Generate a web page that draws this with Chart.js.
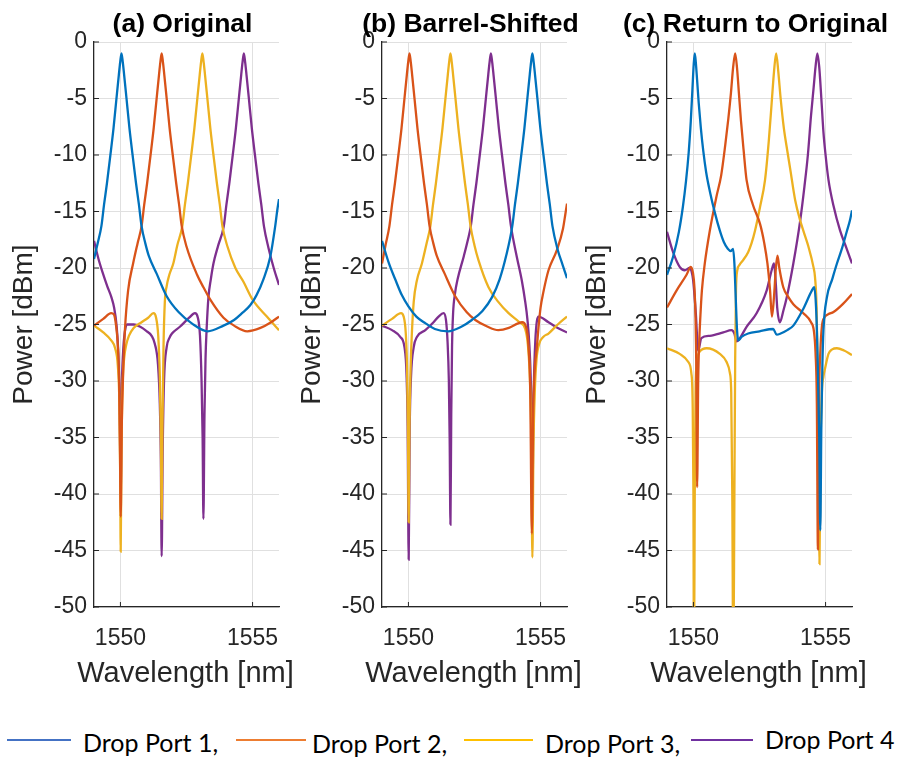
<!DOCTYPE html>
<html>
<head>
<meta charset="utf-8">
<script src="https://cdn.jsdelivr.net/npm/chart.js@4.4.1/dist/chart.umd.min.js"></script>
<style>
  body { margin: 0; background: #fff; }
  #wrap { position: relative; width: 897px; height: 759px; overflow: hidden; }
  canvas { position: absolute; top: 0; }
  .leg { position: absolute; height: 2px; }
  .lt { position: absolute; font-family: "Lato", sans-serif; font-size: 25px; line-height: 30px; color: #000; white-space: nowrap; }
</style>
</head>
<body>
<div id="wrap">
  <canvas id="chartA" width="300" height="707" style="left:0px"></canvas>
  <canvas id="chartB" width="300" height="707" style="left:288px"></canvas>
  <canvas id="chartC" width="324" height="707" style="left:573px"></canvas>

  <div class="leg" style="left:7px;top:739px;width:64px;background:#4472C4"></div>
  <div class="lt" style="left:83px;top:727px">Drop Port 1,</div>
  <div class="leg" style="left:236px;top:739px;width:70px;background:#ED7D31"></div>
  <div class="lt" style="left:312px;top:728px">Drop Port 2,</div>
  <div class="leg" style="left:464px;top:739px;width:69px;background:#FFC000"></div>
  <div class="lt" style="left:545px;top:728px">Drop Port 3,</div>
  <div class="leg" style="left:691px;top:739px;width:62px;background:#7030A0"></div>
  <div class="lt" style="left:765px;top:724px">Drop Port 4</div>
</div>
<script>
// wavelength ticks and power range
const xTicks = [1550, 1555];
const xMin = 1549, xMax = 1556;
const yMin = -50, yMax = 0, yStep = 5;

const titles = ['(a) Original', '(b) Barrel-Shifted', '(c) Return to Original'];
const portNames = ['Drop Port 1', 'Drop Port 2', 'Drop Port 3', 'Drop Port 4'];
const portColors = ['#0072BD', '#D95319', '#EDB120', '#7E2F8E'];

// (a) Original   [wavelength nm, power dBm]
const a1 = [[1549.0,-19.2],[1549.14,-17.8],[1549.28,-16.3],[1549.38,-14.4],[1549.49,-12.5],[1549.62,-10.0],[1549.74,-7.6],[1549.85,-5.0],[1549.94,-2.9],[1549.99,-1.8],[1550.04,-1.0],[1550.09,-1.8],[1550.14,-2.9],[1550.23,-5.0],[1550.34,-7.6],[1550.46,-10.0],[1550.59,-12.5],[1550.7,-14.4],[1550.8,-16.3],[1550.94,-17.8],[1551.07,-18.9],[1551.37,-20.5],[1551.75,-22.5],[1552.2,-23.9],[1552.7,-24.9],[1553.3,-25.6],[1553.9,-25.1],[1554.3,-24.6],[1554.6,-24.0],[1554.91,-23.3],[1555.15,-22.4],[1555.41,-21.0],[1555.67,-19.0],[1555.85,-16.4],[1555.94,-14.8],[1556.0,-13.9]];
const a2 = [[1549.0,-25.1],[1549.35,-24.5],[1549.65,-24.0],[1549.75,-24.1],[1549.83,-25.0],[1549.9,-26.8],[1549.95,-30],[1549.98,-35],[1550.01,-42],[1550.05,-34],[1550.1,-29.5],[1550.17,-25.5],[1550.29,-22.0],[1550.48,-19.6],[1550.65,-17.8],[1550.8,-16.3],[1550.9,-14.4],[1551.01,-12.5],[1551.14,-10.0],[1551.26,-7.6],[1551.37,-5.0],[1551.46,-2.9],[1551.51,-1.8],[1551.56,-1.0],[1551.61,-1.8],[1551.66,-2.9],[1551.75,-5.0],[1551.86,-7.6],[1551.98,-10.0],[1552.11,-12.5],[1552.22,-14.4],[1552.32,-16.3],[1552.5,-18.1],[1552.9,-20.6],[1553.14,-21.7],[1553.4,-22.8],[1553.9,-24.4],[1554.3,-25.1],[1554.8,-25.6],[1555.3,-25.3],[1555.7,-24.8],[1556.0,-24.3]];
const a3 = [[1549.0,-25.1],[1549.35,-25.7],[1549.65,-26.4],[1549.8,-27.1],[1549.9,-28.6],[1549.96,-32],[1549.99,-38],[1550.01,-45.1],[1550.04,-36],[1550.08,-30.5],[1550.14,-28.0],[1550.22,-26.8],[1550.32,-26.0],[1550.5,-25.3],[1550.8,-24.8],[1551.05,-24.4],[1551.25,-24.0],[1551.35,-24.4],[1551.43,-26],[1551.49,-29.5],[1551.53,-35],[1551.56,-42.2],[1551.59,-34],[1551.63,-27],[1551.68,-23.0],[1551.75,-21.6],[1551.85,-20.6],[1552.0,-19.6],[1552.15,-18.0],[1552.34,-16.3],[1552.44,-14.4],[1552.55,-12.5],[1552.68,-10.0],[1552.8,-7.6],[1552.91,-5.0],[1553.0,-2.9],[1553.05,-1.8],[1553.1,-1.0],[1553.15,-1.8],[1553.2,-2.9],[1553.29,-5.0],[1553.4,-7.6],[1553.52,-10.0],[1553.65,-12.5],[1553.76,-14.4],[1553.86,-16.3],[1554.05,-18.1],[1554.35,-20.0],[1554.65,-21.2],[1555.0,-22.8],[1555.54,-24.3],[1556.0,-25.5]];
const a4 = [[1549.0,-17.6],[1549.17,-19.2],[1549.34,-20.5],[1549.5,-21.6],[1549.66,-22.6],[1549.76,-23.5],[1549.85,-25.0],[1549.92,-27.5],[1549.97,-32],[1550.01,-40],[1550.05,-31],[1550.1,-27.5],[1550.17,-25.6],[1550.25,-25.0],[1550.5,-25.0],[1550.75,-25.2],[1551.0,-25.6],[1551.18,-26.0],[1551.3,-26.7],[1551.42,-28.5],[1551.49,-32],[1551.53,-37],[1551.56,-45.5],[1551.6,-36],[1551.65,-30],[1551.75,-27.0],[1551.85,-26.2],[1551.95,-25.8],[1552.25,-25.2],[1552.6,-24.4],[1552.82,-24.0],[1552.93,-24.4],[1553.01,-26],[1553.07,-30],[1553.11,-35],[1553.14,-42.2],[1553.18,-33],[1553.22,-28],[1553.26,-25.5],[1553.33,-22.6],[1553.42,-21.0],[1553.52,-19.6],[1553.7,-18.0],[1553.91,-16.3],[1554.01,-14.4],[1554.12,-12.5],[1554.25,-10.0],[1554.37,-7.6],[1554.48,-5.0],[1554.57,-2.9],[1554.62,-1.8],[1554.67,-1.0],[1554.72,-1.8],[1554.77,-2.9],[1554.86,-5.0],[1554.97,-7.6],[1555.09,-10.0],[1555.22,-12.5],[1555.33,-14.4],[1555.43,-16.3],[1555.6,-18.2],[1555.8,-20.0],[1556.0,-21.5]];

// (b) Barrel-Shifted
const b1 = [[1549.0,-17.6],[1549.25,-19.5],[1549.5,-21.0],[1549.75,-22.4],[1550.0,-23.4],[1550.3,-24.3],[1550.65,-24.9],[1551.0,-25.4],[1551.5,-25.6],[1552.0,-25.2],[1552.4,-24.6],[1552.8,-23.8],[1553.16,-22.6],[1553.45,-21.0],[1553.7,-18.9],[1553.93,-16.3],[1554.03,-14.4],[1554.14,-12.5],[1554.27,-10.0],[1554.39,-7.6],[1554.5,-5.0],[1554.59,-2.9],[1554.64,-1.8],[1554.69,-1.0],[1554.74,-1.8],[1554.79,-2.9],[1554.88,-5.0],[1554.99,-7.6],[1555.11,-10.0],[1555.24,-12.5],[1555.35,-14.4],[1555.45,-16.3],[1555.65,-18.4],[1555.83,-19.7],[1556.0,-20.9]];
const b2 = [[1549.0,-19.6],[1549.14,-17.9],[1549.28,-16.3],[1549.38,-14.4],[1549.49,-12.5],[1549.62,-10.0],[1549.74,-7.6],[1549.85,-5.0],[1549.94,-2.9],[1549.99,-1.8],[1550.04,-1.0],[1550.09,-1.8],[1550.14,-2.9],[1550.23,-5.0],[1550.34,-7.6],[1550.46,-10.0],[1550.59,-12.5],[1550.7,-14.4],[1550.8,-16.3],[1550.94,-17.8],[1551.07,-18.9],[1551.37,-20.5],[1551.77,-22.5],[1552.2,-23.9],[1552.53,-24.6],[1553.0,-25.2],[1553.4,-25.5],[1553.8,-25.3],[1554.15,-24.9],[1554.3,-24.8],[1554.45,-25.2],[1554.54,-26.8],[1554.61,-31],[1554.67,-43.5],[1554.72,-33],[1554.78,-29],[1554.86,-27],[1554.92,-25.3],[1555.0,-23.5],[1555.1,-22.2],[1555.3,-20.2],[1555.62,-18.4],[1555.85,-16.5],[1555.94,-15.2],[1556.0,-14.3]];
const b3 = [[1549.0,-25.1],[1549.38,-24.5],[1549.72,-24.0],[1549.82,-24.3],[1549.9,-25.8],[1549.95,-29],[1549.98,-34],[1550.01,-42.5],[1550.04,-34],[1550.08,-29],[1550.13,-25.8],[1550.2,-23.0],[1550.32,-21.1],[1550.51,-19.6],[1550.68,-17.9],[1550.83,-16.3],[1550.93,-14.4],[1551.04,-12.5],[1551.17,-10.0],[1551.29,-7.6],[1551.4,-5.0],[1551.49,-2.9],[1551.54,-1.8],[1551.59,-1.0],[1551.64,-1.8],[1551.69,-2.9],[1551.78,-5.0],[1551.89,-7.6],[1552.01,-10.0],[1552.14,-12.5],[1552.25,-14.4],[1552.35,-16.3],[1552.5,-18.0],[1552.65,-19.3],[1553.03,-21.7],[1553.4,-23.0],[1553.79,-24.0],[1554.2,-24.8],[1554.42,-25.4],[1554.52,-26.8],[1554.6,-30],[1554.65,-35],[1554.69,-45.6],[1554.73,-36],[1554.78,-31],[1554.85,-28],[1554.95,-26.7],[1555.1,-26.1],[1555.3,-25.8],[1555.65,-25.0],[1556.0,-24.3]];
const b4 = [[1549.0,-25.1],[1549.38,-25.5],[1549.69,-26.1],[1549.85,-27.0],[1549.93,-29.5],[1549.97,-34],[1550.01,-45.8],[1550.05,-34],[1550.1,-29.5],[1550.2,-27.0],[1550.32,-26.1],[1550.64,-25.5],[1550.95,-24.8],[1551.14,-24.3],[1551.33,-24.0],[1551.42,-24.6],[1551.48,-26.5],[1551.53,-30],[1551.56,-35],[1551.59,-42.7],[1551.62,-33],[1551.65,-27],[1551.69,-24.0],[1551.76,-22.3],[1551.86,-21.0],[1552.09,-19.0],[1552.25,-17.5],[1552.36,-16.3],[1552.46,-14.4],[1552.57,-12.5],[1552.7,-10.0],[1552.82,-7.6],[1552.93,-5.0],[1553.02,-2.9],[1553.07,-1.8],[1553.12,-1.0],[1553.17,-1.8],[1553.22,-2.9],[1553.31,-5.0],[1553.42,-7.6],[1553.54,-10.0],[1553.67,-12.5],[1553.78,-14.4],[1553.88,-16.3],[1554.1,-19.0],[1554.29,-21.1],[1554.42,-23.0],[1554.5,-24.5],[1554.58,-27],[1554.64,-31],[1554.69,-40],[1554.74,-31],[1554.8,-26.5],[1554.92,-24.3],[1555.3,-24.8],[1555.65,-25.3],[1556.0,-25.7]];

// (c) Return to Original
const c1 = [[1549.0,-20.6],[1549.23,-19.0],[1549.45,-16.8],[1549.6,-14.6],[1549.72,-12.3],[1549.82,-9.8],[1549.9,-7.0],[1549.96,-4.3],[1550.01,-2.0],[1550.05,-1.0],[1550.09,-1.8],[1550.14,-3.4],[1550.2,-5.4],[1550.28,-7.6],[1550.37,-9.6],[1550.48,-11.5],[1550.62,-13.2],[1550.81,-15.1],[1551.0,-16.7],[1551.15,-17.7],[1551.3,-18.3],[1551.42,-18.5],[1551.5,-18.3],[1551.55,-19.6],[1551.6,-22.6],[1551.65,-25.5],[1551.7,-26.4],[1551.82,-26.1],[1552.07,-25.8],[1552.5,-25.6],[1553.02,-25.4],[1553.15,-25.9],[1553.3,-25.8],[1553.55,-25.5],[1553.78,-25.1],[1554.16,-23.6],[1554.48,-22.0],[1554.57,-21.7],[1554.64,-23.5],[1554.7,-28],[1554.76,-35],[1554.8,-43.2],[1554.84,-34],[1554.88,-28.5],[1554.92,-25.5],[1555.05,-22.6],[1555.25,-21.0],[1555.43,-19.6],[1555.63,-18.2],[1555.81,-16.7],[1555.92,-15.8],[1556.0,-14.9]];
const c2 = [[1549.0,-23.5],[1549.36,-22.0],[1549.74,-20.6],[1549.9,-19.9],[1549.98,-20.4],[1550.04,-21.8],[1550.08,-24.5],[1550.11,-29],[1550.14,-39.4],[1550.18,-30],[1550.22,-26.5],[1550.26,-24.4],[1550.32,-22.0],[1550.43,-19.6],[1550.62,-16.7],[1550.87,-13.7],[1551.05,-11.8],[1551.2,-9.2],[1551.32,-6.8],[1551.42,-4.5],[1551.5,-2.3],[1551.58,-1.0],[1551.65,-2.3],[1551.72,-4.5],[1551.8,-7.0],[1551.9,-9.6],[1552.01,-12.2],[1552.25,-14.4],[1552.52,-16.1],[1552.68,-17.8],[1552.8,-19.6],[1552.9,-22.0],[1552.97,-24.3],[1553.05,-22.5],[1553.12,-20.0],[1553.18,-18.9],[1553.25,-20.0],[1553.4,-21.7],[1553.6,-22.6],[1553.78,-23.2],[1554.16,-24.0],[1554.45,-24.8],[1554.56,-25.6],[1554.62,-27.5],[1554.67,-32],[1554.71,-44.9],[1554.75,-32],[1554.8,-27.5],[1554.86,-25.2],[1554.95,-24.4],[1555.1,-24.1],[1555.3,-23.9],[1555.65,-23.2],[1556.0,-22.3]];
const c3 = [[1549.0,-27.1],[1549.48,-27.6],[1549.8,-28.3],[1549.92,-29.3],[1549.97,-32],[1550.0,-40],[1550.02,-56],[1550.05,-40],[1550.08,-31],[1550.12,-28.6],[1550.24,-27.4],[1550.5,-27.1],[1551.0,-27.6],[1551.25,-28.3],[1551.38,-29.3],[1551.43,-31],[1551.47,-40],[1551.51,-56],[1551.55,-40],[1551.58,-28],[1551.61,-22],[1551.66,-20.2],[1551.75,-19.7],[1551.88,-19.3],[1552.07,-18.6],[1552.2,-17.8],[1552.33,-16.7],[1552.52,-14.6],[1552.71,-12.2],[1552.85,-8.8],[1552.96,-5.4],[1553.05,-2.6],[1553.13,-1.0],[1553.21,-2.6],[1553.3,-5.0],[1553.42,-7.6],[1553.55,-9.6],[1553.66,-11.2],[1553.85,-14.0],[1554.04,-15.8],[1554.2,-17.0],[1554.35,-18.1],[1554.54,-19.9],[1554.6,-20.8],[1554.66,-23.5],[1554.7,-29],[1554.74,-36],[1554.77,-46.2],[1554.81,-36],[1554.86,-31],[1554.92,-29.6],[1554.98,-28.9],[1555.11,-27.6],[1555.25,-27.2],[1555.43,-27.1],[1555.7,-27.3],[1556.0,-27.7]];
const c4 = [[1549.0,-16.8],[1549.23,-18.6],[1549.48,-19.9],[1549.67,-20.2],[1549.86,-20.0],[1549.93,-20.3],[1549.99,-21.1],[1550.09,-24.0],[1550.18,-27.3],[1550.3,-26.2],[1550.62,-26.0],[1551.13,-25.7],[1551.44,-25.5],[1551.55,-25.8],[1551.63,-26.5],[1551.76,-26.2],[1552.01,-25.2],[1552.39,-24.0],[1552.77,-22.0],[1552.96,-20.2],[1553.05,-19.6],[1553.12,-21.5],[1553.17,-23.5],[1553.27,-24.8],[1553.4,-23.8],[1553.53,-22.6],[1553.78,-19.6],[1554.04,-15.8],[1554.2,-12.8],[1554.33,-10.0],[1554.45,-6.5],[1554.55,-4.0],[1554.62,-2.2],[1554.69,-1.0],[1554.76,-2.2],[1554.84,-5.0],[1554.92,-8.0],[1555.0,-10.0],[1555.11,-12.2],[1555.3,-14.5],[1555.55,-16.7],[1555.8,-18.3],[1556.0,-19.6]];

const fontFamily = '"Liberation Sans", Arial, sans-serif';
const axisColor = '#262626';
const gridColor = '#e0e0e0';

// draws panel title, x-axis title and MATLAB-style inward ticks
const decor = {
  id: 'decor',
  afterDraw(chart, args, opts) {
    const ctx = chart.ctx;
    const area = chart.chartArea;
    const xs = chart.scales.x, ys = chart.scales.y;
    const cx = (area.left + area.right) / 2;
    ctx.save();
    ctx.strokeStyle = axisColor;
    ctx.lineWidth = 1;
    ctx.beginPath();
    xs.ticks.forEach(t => {
      const px = xs.getPixelForValue(t.value);
      ctx.moveTo(px, area.bottom);
      ctx.lineTo(px, area.bottom - 5);
    });
    ys.ticks.forEach(t => {
      const py = ys.getPixelForValue(t.value);
      ctx.moveTo(area.left, py);
      ctx.lineTo(area.left + 5, py);
    });
    ctx.stroke();
    ctx.fillStyle = '#000';
    ctx.textAlign = 'center';
    ctx.textBaseline = 'alphabetic';
    ctx.font = 'bold 26.5px ' + fontFamily;
    ctx.fillText(opts.title, cx - 4, 32);
    ctx.fillStyle = axisColor;
    ctx.font = '29px ' + fontFamily;
    ctx.fillText('Wavelength [nm]', cx - 1, 682);
    ctx.restore();
  }
};

const makeChart = (id, title, series, rightPad) => {
  const datasets = series.map((pts, i) => ({
    label: portNames[i],
    data: pts.map(p => ({ x: p[0], y: p[1] })),
    borderColor: portColors[i],
    borderWidth: 2.3,
    pointRadius: 0,
    fill: false,
    cubicInterpolationMode: 'monotone',
    clip: 0
  }));
  return new Chart(document.getElementById(id), {
    type: 'line',
    data: { datasets },
    options: {
      responsive: false,
      animation: false,
      layout: { padding: { top: 42, right: rightPad, left: 0, bottom: 0 } },
      plugins: {
        legend: { display: false },
        tooltip: { enabled: false },
        decor: { title }
      },
      scales: {
        x: {
          type: 'linear',
          min: xMin,
          max: xMax,
          afterBuildTicks: s => { s.ticks = xTicks.map(v => ({ value: v })); },
          afterFit: s => { s.height = 100; },
          grid: { color: gridColor, drawTicks: false },
          border: { color: axisColor, width: 1.3 },
          ticks: { color: axisColor, font: { family: fontFamily, size: 23 }, padding: 18, maxRotation: 0, callback: v => String(v) }
        },
        y: {
          min: yMin,
          max: yMax,
          afterFit: s => { s.width = 94; },
          grid: { color: gridColor, drawTicks: false },
          border: { color: axisColor, width: 1.3 },
          ticks: { stepSize: yStep, color: axisColor, font: { family: fontFamily, size: 23 }, padding: 7 },
          title: { display: true, text: 'Power [dBm]', color: axisColor, font: { family: fontFamily, size: 28 }, padding: { top: 7, bottom: 0 } }
        }
      }
    },
    plugins: [decor]
  });
};

makeChart('chartA', titles[0], [a1, a2, a3, a4], 21);
makeChart('chartB', titles[1], [b1, b2, b3, b4], 21);
makeChart('chartC', titles[2], [c1, c2, c3, c4], 45);
</script>
</body>
</html>
